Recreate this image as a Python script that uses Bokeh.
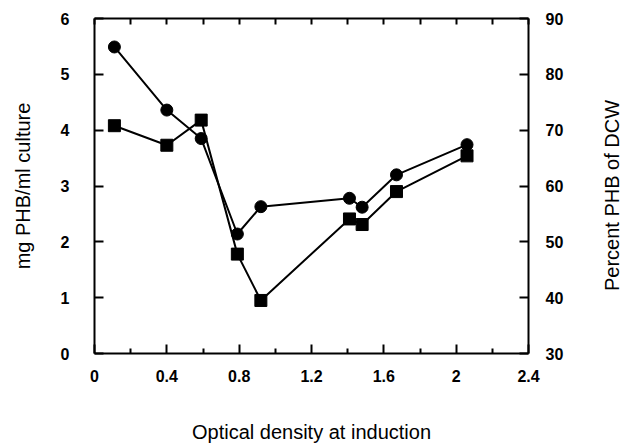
import math

from bokeh.plotting import figure
from bokeh.models import LinearAxis, Range1d, FixedTicker, Label
from bokeh.embed import file_html
from bokeh.resources import INLINE

# Optical density at induction
od_circle = [0.11, 0.40, 0.59, 0.79, 0.92, 1.41, 1.48, 1.67, 2.06]
mg_phb = [5.49, 4.36, 3.85, 2.14, 2.63, 2.78, 2.62, 3.20, 3.74]

od_square = [0.11, 0.40, 0.59, 0.79, 0.92, 1.41, 1.48, 1.67, 2.06]
pct_phb = [70.8, 67.3, 71.8, 47.8, 39.5, 54.1, 53.1, 59.0, 65.4]

x_ticks = [0, 0.4, 0.8, 1.2, 1.6, 2.0, 2.4]
x_minor = [0.2, 0.6, 1.0, 1.4, 1.8, 2.2]
x_all = [0, 0.2, 0.4, 0.6, 0.8, 1.0, 1.2, 1.4, 1.6, 1.8, 2.0, 2.2, 2.4]
x_labels = {0: "0", 0.4: "0.4", 0.8: "0.8", 1.2: "1.2", 1.6: "1.6", 2.0: "2", 2.4: "2.4"}
left_ticks = [0, 1, 2, 3, 4, 5, 6]
right_ticks = [30, 40, 50, 60, 70, 80, 90]

FONT = "Liberation Sans"

p = figure(width=629, height=445, output_backend="svg", toolbar_location=None,
           x_range=Range1d(0, 2.4), y_range=Range1d(0, 6),
           x_axis_location=None, y_axis_location=None)
p.extra_y_ranges = {"pct": Range1d(30, 90)}
p.min_border_left = 94
p.min_border_right = 101
p.min_border_top = 18
p.min_border_bottom = 90
p.outline_line_color = None
p.xgrid.visible = False
p.ygrid.visible = False
p.background_fill_color = "white"
p.border_fill_color = "white"


def style(ax):
    ax.axis_line_width = 2
    ax.axis_line_color = "black"
    ax.major_tick_in = 9
    ax.major_tick_out = 0
    ax.minor_tick_in = 5
    ax.minor_tick_out = 0
    ax.major_tick_line_width = 2
    ax.minor_tick_line_width = 2
    ax.major_label_text_font = FONT
    ax.major_label_text_font_style = "bold"
    ax.major_label_text_font_size = "16px"
    ax.major_label_text_color = "black"
    ax.axis_label_text_font = FONT
    ax.axis_label_text_font_style = "normal"
    ax.axis_label_text_font_size = "20px"
    ax.axis_label_text_color = "black"


xb = LinearAxis(ticker=FixedTicker(ticks=x_ticks, minor_ticks=x_minor),
                axis_label="Optical density at induction")
xb.major_label_overrides = x_labels
style(xb)
xb.major_label_standoff = 16
xb.axis_label_standoff = 36
p.add_layout(xb, "below")

# top edge: tick marks only, no labels
xt = LinearAxis(ticker=FixedTicker(ticks=[], minor_ticks=x_all))
style(xt)
xt.minor_tick_in = 6
p.add_layout(xt, "above")

yl = LinearAxis(ticker=FixedTicker(ticks=left_ticks), axis_label="mg PHB/ml culture")
style(yl)
yl.major_label_standoff = 25
yl.axis_label_standoff = 24
p.add_layout(yl, "left")

yr = LinearAxis(y_range_name="pct", ticker=FixedTicker(ticks=right_ticks))
style(yr)
yr.major_label_standoff = 17
p.add_layout(yr, "right")

# right-hand title, reading bottom-to-top like the left one
p.add_layout(Label(x=45, y=158, x_units="screen", y_units="screen",
                   text="Percent PHB of DCW", angle=math.pi / 2,
                   text_align="center", text_baseline="middle",
                   text_font=FONT, text_font_size="20px", text_color="black"),
             "right")

# PHB concentration (circles, left scale)
p.line(od_circle, mg_phb, line_color="black", line_width=2)
p.scatter(od_circle, mg_phb, marker="circle", size=12,
          fill_color="black", line_color="black")

# PHB content of dry cell weight (squares, right scale)
p.line(od_square, pct_phb, line_color="black", line_width=2, y_range_name="pct")
p.scatter(od_square, pct_phb, marker="square", size=12,
          fill_color="black", line_color="black", y_range_name="pct")

open("out.html", "w").write(file_html(p, INLINE))
